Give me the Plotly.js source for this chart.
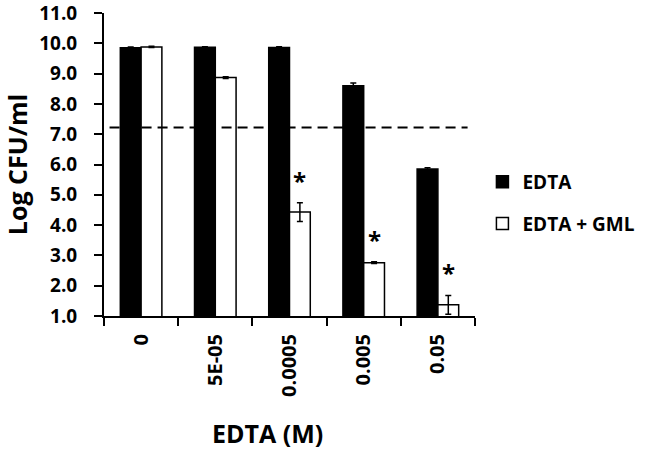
<!DOCTYPE html>
<html><head><meta charset="utf-8">
<script src="https://cdn.plot.ly/plotly-3.0.1.min.js"></script>
<style>body{margin:0;background:#fff}#c{width:652px;height:449px}</style>
</head><body><div id="c"></div>
<script>
const categories = ["0", "5E-05", "0.0005", "0.005", "0.05"];
const edta = [9.85, 9.87, 9.86, 8.60, 5.85];
const edtaErr = [0.03, 0.02, 0.03, 0.09, 0.04];
const edtaGml = [9.88, 8.87, 4.43, 2.76, 1.37];
const edtaGmlErr = [0.02, 0.03, 0.31, 0.03, 0.31];
const significance = ["", "", "*", "*", "*"];
const threshold = 7.22;
const seriesNames = ["EDTA", "EDTA + GML"];
const xTitle = "EDTA (M)";
const yTitle = "Log CFU/ml";

const FONT = "'Open Sans', 'DejaVu Sans', sans-serif";

const traces = [
  {type: "bar", name: seriesNames[0], x: categories, y: edta, legendgroup: "a",
   marker: {color: "#000", line: {color: "#000", width: 1.5}},
   error_y: {type: "data", array: edtaErr, visible: true, color: "#000", thickness: 1.5, width: 3}},
  {type: "bar", name: seriesNames[1], x: categories, y: edtaGml, legendgroup: "b",
   marker: {color: "#fff", line: {color: "#000", width: 1.5}},
   error_y: {type: "data", array: edtaGmlErr, visible: true, color: "#000", thickness: 1.5, width: 3}}
];

const annotations = [];
significance.forEach((s, i) => {
  if (!s) return;
  annotations.push({x: i + 0.14, y: edtaGml[i] + edtaGmlErr[i], xref: "x", yref: "y",
    text: s, showarrow: false, yanchor: "bottom", yshift: 4,
    font: {family: FONT, size: 24, color: "#000", weight: "bold"}});
});
annotations.push({x: 0.44, y: 0, xref: "paper", yref: "paper", yanchor: "top", yshift: -98,
  text: xTitle, showarrow: false,
  font: {family: FONT, size: 25, color: "#000", weight: "bold"}});

const layout = {
  width: 652, height: 449,
  margin: {l: 104, r: 166, t: 13, b: 133},
  paper_bgcolor: "#fff", plot_bgcolor: "#fff",
  barmode: "group", bargap: 0.44, bargroupgap: 0,
  showlegend: true,
  legend: {x: 1.02, xanchor: "left", y: 0.505, yanchor: "top", traceorder: "grouped",
    tracegroupgap: 14, font: {family: FONT, size: 19, color: "#000", weight: "bold"},
    bgcolor: "rgba(0,0,0,0)"},
  xaxis: {type: "category", range: [-0.5, 4.5], showline: true, linecolor: "#000", linewidth: 2,
    ticks: "outside", ticklen: 8, tickwidth: 2, tickcolor: "#000", tickson: "boundaries",
    tickangle: -90, showgrid: false, zeroline: false, ticklabelstandoff: 8,
    tickfont: {family: FONT, size: 20, color: "#000", weight: "bold"}},
  yaxis: {range: [0.9999, 11.0001], dtick: 1, tick0: 1, tickformat: ".1f", showline: true, linecolor: "#000", linewidth: 2,
    ticks: "outside", ticklen: 8, tickwidth: 2, tickcolor: "#000", showgrid: false, zeroline: false,
    ticklabelstandoff: 13, ticklabeloverflow: "allow",
    tickfont: {family: FONT, size: 19, color: "#000", weight: "bold"},
    title: {text: yTitle, standoff: 12, font: {family: FONT, size: 25, color: "#000", weight: "bold"}}},
  shapes: [{type: "line", xref: "paper", yref: "y", x0: 0.015, x1: 0.98, y0: threshold, y1: threshold,
    line: {color: "#000", width: 2, dash: "10px,6px"}}],
  annotations: annotations
};

Plotly.newPlot("c", traces, layout, {staticPlot: true});
</script></body></html>
